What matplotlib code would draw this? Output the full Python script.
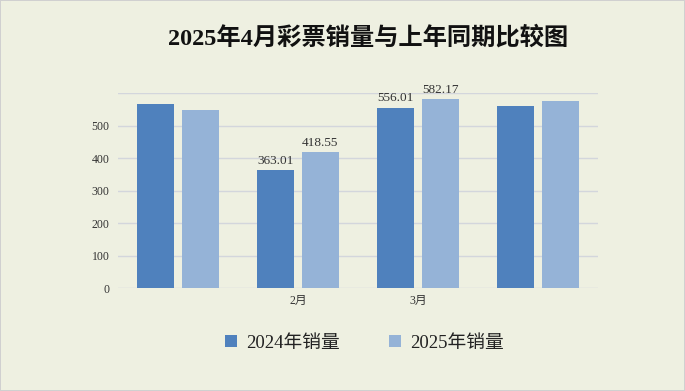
import matplotlib
matplotlib.use('Agg')
from matplotlib import pyplot as plt
import numpy as np

# data
months = ['1月', '2月', '3月', '4月']
tick_labels = ['', '2月', '3月', '']
sales_2024 = [568, 363.01, 556.01, 562]
sales_2025 = [549, 418.55, 582.17, 577]
labelled = [False, True, True, False]

# colours
bg = '#eef0e1'
c2024 = '#4f81bd'
c2025 = '#95b3d7'
grid_c = '#d3d6dc'
txt = '#333333'
fam = ['Liberation Serif', 'Noto Sans CJK SC']

fig = plt.figure(figsize=(6.85, 3.91), dpi=100)
fig.patch.set_facecolor(bg)
fig.patch.set_edgecolor('#d0d0d0')
fig.patch.set_linewidth(1.2)

ax = fig.add_axes([0.172, 0.263, 0.701, 0.498])
ax.set_facecolor(bg)

x = np.arange(len(months))
w = 0.31
off = 0.187
b1 = ax.bar(x - off, sales_2024, w, color=c2024, label='2024年销量', zorder=3)
b2 = ax.bar(x + off, sales_2025, w, color=c2025, label='2025年销量', zorder=3)

# value labels only on the middle groups
for i in range(len(months)):
    if labelled[i]:
        ax.text(x[i] - off, sales_2024[i] + 10, '%.2f' % sales_2024[i], ha='center', va='bottom',
                fontsize=9.5, family=fam, color=txt)
        ax.text(x[i] + off, sales_2025[i] + 10, '%.2f' % sales_2025[i], ha='center', va='bottom',
                fontsize=9.5, family=fam, color=txt)

ax.set_xlim(-0.5, len(months) - 0.5)
ax.set_ylim(0, 600)
ax.set_yticks([0, 100, 200, 300, 400, 500, 600])
ax.set_yticklabels(['0', '100', '200', '300', '400', '500', ''], family=fam, fontsize=8.5, color=txt)
ax.set_xticks(x)
ax.set_xticklabels(tick_labels, family=fam, fontsize=8.5, color=txt)
ax.tick_params(axis='y', length=0, pad=6)
ax.tick_params(axis='x', length=0, pad=5)
ax.yaxis.grid(True, color=grid_c, linewidth=1, zorder=0)
for s in ax.spines.values():
    s.set_visible(False)

fig.text(0.537, 0.903, '2025年4月彩票销量与上年同期比较图', ha='center', va='center',
         fontsize=17.5, fontweight='bold', family=fam, color='#111111')

leg = fig.legend(handles=[b1, b2], loc='center', bbox_to_anchor=(0.532, 0.122), ncol=2,
                 frameon=False, prop={'family': fam, 'size': 13.5},
                 handlelength=0.65, handleheight=0.65, columnspacing=2.6, handletextpad=0.5)
for t in leg.get_texts():
    t.set_color('#222222')

fig.savefig('out.png', dpi=100, facecolor=fig.get_facecolor(), edgecolor=fig.get_edgecolor())
